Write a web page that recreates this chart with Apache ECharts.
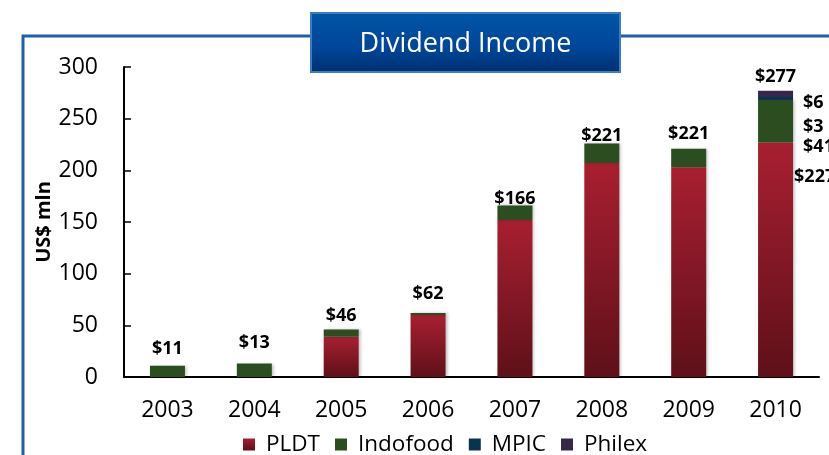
<!DOCTYPE html>
<html>
<head>
<meta charset="utf-8">
<script src="https://cdn.jsdelivr.net/npm/echarts@6/dist/echarts.min.js"></script>
<style>
  html, body { margin: 0; padding: 0; background: #fff; }
  #chart { width: 829px; height: 455px; }
</style>
</head>
<body>
<div id="chart"></div>
<script>
const years = ['2003', '2004', '2005', '2006', '2007', '2008', '2009', '2010'];
const pldt = [0, 0, 39, 60, 152, 207, 203, 227];
const indofood = [11, 13, 7, 2, 14, 19, 18, 41];
const mpic = [0, 0, 0, 0, 0, 0, 0, 3];
const philex = [0, 0, 0, 0, 0, 0, 0, 6];
const totalLabels = ['$11', '$13', '$46', '$62', '$166', '$221', '$221', '$277'];
const lastYearLabels = ['$227', '$41', '$3', '$6'];   // PLDT, Indofood, MPIC, Philex in 2010
const yTicks = [0, 50, 100, 150, 200, 250, 300];

const totalGap = [8, 12, 5, 10, -2, -1, 6, 5];
const lastOffsets = [[-4, -83], [5, 26], [5, 28], [5, 9]];
const fontFamily = '"Open Sans", "Noto Sans", sans-serif';

const pldtColor = new echarts.graphic.LinearGradient(0, 0, 0, 1, [
    { offset: 0, color: '#a81f31' },
    { offset: 1, color: '#5e1019' }
]);

// label only on the 2010 item of each segment
const withSideLabel = (values, idx) => values.map((v, i) => {
    if (i !== values.length - 1) return v;
    return {
        value: v,
        label: {
            show: true,
            position: 'right',
            offset: lastOffsets[idx],
            formatter: lastYearLabels[idx],
            color: '#000',
            fontSize: 18,
            fontWeight: 'bold',
            fontFamily: fontFamily
        }
    };
});

const chart = echarts.init(document.getElementById('chart'));
chart.setOption({
    animation: false,
    graphic: [
        {
            type: 'rect',
            z: 0,
            shape: { x: 23, y: 36, width: 900, height: 500 },
            style: { fill: 'none', stroke: '#1f5fa8', lineWidth: 3 }
        },
        {
            type: 'rect',
            z: 10,
            shape: { x: 311, y: 13, width: 309, height: 59 },
            style: {
                fill: new echarts.graphic.LinearGradient(0, 0, 0, 1, [
                    { offset: 0, color: '#0055a6' },
                    { offset: 0.6, color: '#00459a' },
                    { offset: 1, color: '#002f6c' }
                ]),
                stroke: '#3c7cc4',
                lineWidth: 2
            }
        },
        {
            type: 'text',
            z: 11,
            x: 465.5,
            y: 44,
            style: {
                text: 'Dividend Income',
                fill: '#fff',
                fontSize: 27,
                fontFamily: fontFamily,
                align: 'center',
                verticalAlign: 'middle'
            }
        }
    ],
    grid: { left: 124, right: 10, top: 67, bottom: 78 },
    legend: {
        data: ['PLDT', 'Indofood', 'MPIC', 'Philex'],
        left: 238,
        top: 428,
        itemWidth: 12,
        itemHeight: 12,
        itemGap: 15,
        icon: 'rect',
        textStyle: { fontSize: 22.5, color: '#000', fontFamily: fontFamily, padding: [0, 0, 0, 6] }
    },
    xAxis: {
        type: 'category',
        data: years,
        axisLine: { lineStyle: { color: '#000', width: 2 } },
        axisTick: { inside: true, length: 8, lineStyle: { color: '#000', width: 1.5 } },
        axisLabel: { fontSize: 23, color: '#000', fontFamily: fontFamily, margin: 22 }
    },
    yAxis: {
        type: 'value',
        min: yTicks[0],
        max: yTicks[yTicks.length - 1],
        interval: yTicks[1] - yTicks[0],
        name: 'US$ mln',
        nameLocation: 'middle',
        nameGap: 70,
        nameMoveOverlap: false,
        nameTextStyle: { fontSize: 20, fontWeight: 'bold', color: '#000', fontFamily: fontFamily },
        splitLine: { show: false },
        axisLine: { show: true, lineStyle: { color: '#000', width: 2 } },
        axisTick: { show: true, inside: true, length: 7, lineStyle: { color: '#000', width: 1.5 } },
        axisLabel: { fontSize: 23, color: '#000', fontFamily: fontFamily, margin: 26 }
    },
    series: [
        {
            name: 'PLDT', type: 'bar', stack: 'div', barWidth: 35,
            itemStyle: { color: pldtColor, shadowBlur: 3, shadowColor: 'rgba(0,0,0,0.25)', shadowOffsetX: 2 },
            data: withSideLabel(pldt, 0)
        },
        {
            name: 'Indofood', type: 'bar', stack: 'div', barWidth: 35,
            itemStyle: { color: '#2b4d20', shadowBlur: 3, shadowColor: 'rgba(0,0,0,0.25)', shadowOffsetX: 2 },
            data: withSideLabel(indofood, 1)
        },
        {
            name: 'MPIC', type: 'bar', stack: 'div', barWidth: 35,
            itemStyle: { color: '#0b3350' },
            data: withSideLabel(mpic, 2)
        },
        {
            name: 'Philex', type: 'bar', stack: 'div', barWidth: 35,
            itemStyle: { color: '#35264a' },
            data: withSideLabel(philex, 3)
        },
        {
            name: 'Total', type: 'bar', stack: 'div', barWidth: 35,
            itemStyle: { color: 'transparent' },
            data: years.map((y, i) => ({
                value: 0,
                label: {
                    show: true,
                    position: 'top',
                    distance: totalGap[i],
                    formatter: totalLabels[i],
                    color: '#000',
                    fontSize: 18,
                    fontWeight: 'bold',
                    fontFamily: fontFamily
                }
            }))
        }
    ]
});
</script>
</body>
</html>
